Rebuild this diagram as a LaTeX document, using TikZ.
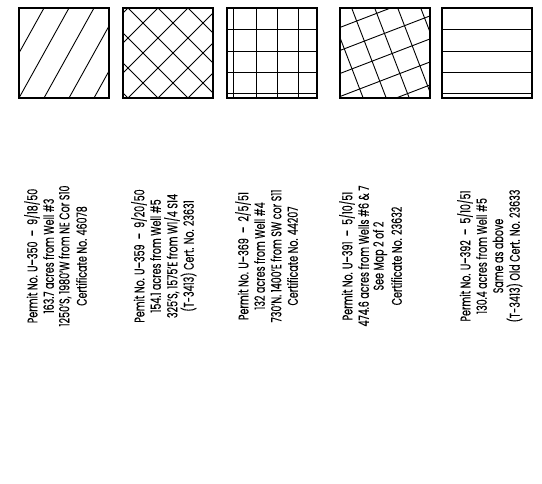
\documentclass[tikz,border=0pt]{standalone}
\usepackage{fontspec}
\setmainfont{Poppins}[FakeBold=0.3]
\usetikzlibrary{positioning}
\newcommand{\narrowtxt}[1]{\scalebox{0.68}[1]{#1}}

\begin{document}
\begin{tikzpicture}[x=1pt,y=1pt,
  box/.style={line width=1.2pt},
  hatch/.style={line width=0.9pt},
  permit/.style={rotate=90, inner sep=0pt, font=\fontsize{14}{14}\selectfont}]
\useasboundingbox (0,0) rectangle (542,483);
% single hatch
\begin{scope}
\clip (19,385) rectangle +(90,90);
\foreach \k in {-2,...,3} \draw[hatch] (19+25*\k,385) -- ++(50,90);
\end{scope}
\draw[box] (19,385) rectangle +(90,90);
% cross hatch
\begin{scope}
\clip (123,385) rectangle +(90,90);
\foreach \k in {-3,...,6} {
  \draw[hatch] (128+30*\k,475) -- ++(-90,-90);
  \draw[hatch] (128+30*\k,475) -- ++(90,-90);
}
\end{scope}
\draw[box] (123,385) rectangle +(90,90);
% square grid
\foreach \u in {6,29,50,71} \draw[hatch] (227+\u,385) -- ++(0,90);
\foreach \v in {21,43,64,85} \draw[hatch] (227,475-\v) -- ++(90,0);
\draw[box] (227,385) rectangle +(90,90);
% tilted grid
\begin{scope}
\clip (340,385) rectangle +(90,90);
\begin{scope}[rotate around={21:(385,430)}]
\foreach \k in {-4,...,4} {
  \draw[hatch] (391.5+21.5*\k,350) -- ++(0,160);
  \draw[hatch] (305,427+21.5*\k) -- ++(160,0);
}
\end{scope}
\end{scope}
\draw[box] (340,385) rectangle +(90,90);
% horizontal lines
\foreach \v in {21,43,64,85} \draw[hatch] (442,475-\v) -- ++(90,0);
\draw[box] (442,385) rectangle +(90,90);

\node[permit] (p1a) at (32,227) {\narrowtxt{Permit No. U--350 \ -- \ 9/18/50}};
\node[permit] (p1b) at (48.5,227) {\narrowtxt{163.7 acres from Well \#3}};
\node[permit] (p1c) at (65,227) {\narrowtxt{1250'S, 1980'W from NE Cor S10}};
\node[permit] (p1d) at (81.5,227) {\narrowtxt{Certificate No. 46078}};

\node[permit] (p2a) at (139,227) {\narrowtxt{Pemit No. U--359 \ -- \ 9/20/50}};
\node[permit] (p2b) at (155.5,227) {\narrowtxt{154.1 acres from Well \#5}};
\node[permit] (p2c) at (172,227) {\narrowtxt{325'S, 1575'E from W1/4 S14}};
\node[permit] (p2d) at (188.5,227) {\narrowtxt{(T-3413) Cert. No. 23631}};

\node[permit] (p3a) at (243,227) {\narrowtxt{Permit No. U--369 \ -- \ 2/5/51}};
\node[permit] (p3b) at (259.5,227) {\narrowtxt{132 acres from Well \#4}};
\node[permit] (p3c) at (276,227) {\narrowtxt{730'N. 1400'E from SW cor S11}};
\node[permit] (p3d) at (292.5,227) {\narrowtxt{Certificate No. 44207}};

\node[permit] (p4a) at (347,227) {\narrowtxt{Permit No. U--391 \ -- \ 5/10/51}};
\node[permit] (p4b) at (363.5,227) {\narrowtxt{474.6 acres from Wells \#6 \& 7}};
\node[permit] (p4c) at (380,227) {\narrowtxt{See Map 2 of 2}};
\node[permit] (p4d) at (396.5,227) {\narrowtxt{Certificate No. 23632}};

\node[permit] (p5a) at (465,227) {\narrowtxt{Permit No. U--392 \ -- \ 5/10/51}};
\node[permit] (p5b) at (481.5,227) {\narrowtxt{130.4 acres from Well \#5}};
\node[permit] (p5c) at (498,227) {\narrowtxt{Same as above}};
\node[permit] (p5d) at (514.5,227) {\narrowtxt{(T-3413) Old Cert. No. 23633}};
\end{tikzpicture}
\end{document}
